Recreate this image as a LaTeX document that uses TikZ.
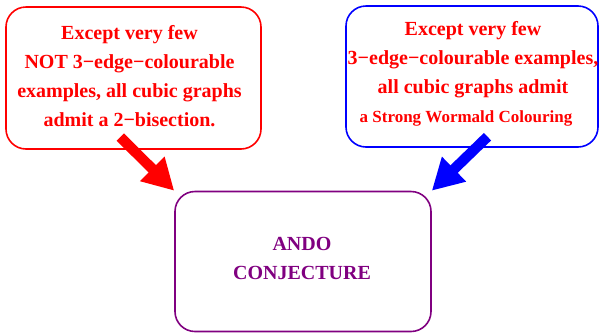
\documentclass[tikz,border=0pt]{standalone}
\usepackage{fontspec}
\setmainfont{Liberation Serif}
\usetikzlibrary{arrows.meta}
\definecolor{andopurple}{RGB}{128,0,128}
\begin{document}
\begin{tikzpicture}[x=1pt,y=-1pt,
  panel/.style={draw, line width=1.6pt, rounded corners=20pt, inner sep=0pt},
  caption/.style={text=red, font=\bfseries\fontsize{20}{29}\selectfont, align=center, inner sep=0pt},
  fatarrow/.style={line width=10.4pt, -{Triangle[width=32.5pt,length=31pt]}}]
  \useasboundingbox (0,0) rectangle (600,333);
  % the three framed panels
  \node[panel, draw=red, minimum width=255pt, minimum height=142pt] (left) at (133.5,78) {};
  \node[panel, draw=blue, minimum width=252pt, minimum height=141pt] (right) at (472,76.5) {};
  \node[panel, draw=andopurple, minimum width=256pt, minimum height=140pt] (ando) at (303,261.5) {};
  % panel texts
  \node[caption] (lefttext) at (129.5,76) {Except very few\\NOT 3−edge−colourable\\examples, all cubic graphs\\admit a 2−bisection.};
  \node[caption] (righttext) at (473,60) {Except very few\\3−edge−colourable examples,\\all cubic graphs admit};
  \node[text=red, font=\bfseries\fontsize{17}{20}\selectfont, inner sep=0pt] (rightlast) at (466,118) {a Strong Wormald Colouring};
  \node[text=andopurple, font=\bfseries\fontsize{20}{29}\selectfont, align=center, inner sep=0pt] (andotext) at (302,258.5) {ANDO\\CONJECTURE};
  % arrows into the conjecture panel
  \coordinate (redtail) at (120.3,137);
  \coordinate (bluetail) at (487.5,136.7);
  \draw[fatarrow, red] (redtail) -- (ando.north west);
  \draw[fatarrow, blue] (bluetail) -- (ando.north east);
\end{tikzpicture}
\end{document}
